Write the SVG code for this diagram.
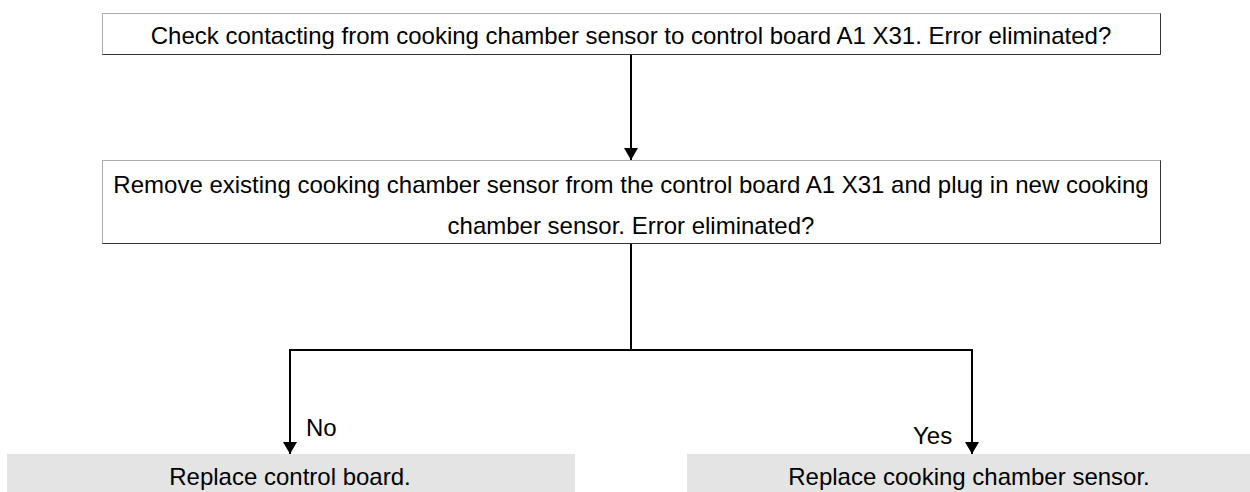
<svg xmlns="http://www.w3.org/2000/svg" width="1250" height="492" viewBox="0 0 1250 492">
<style>
text{font-family:"Liberation Sans",Arial,sans-serif;font-size:24px;fill:#000}
.c{text-anchor:middle}
.box{fill:#fff;stroke:#aaa;stroke-width:1}
.sh{stroke:#333;stroke-width:1;fill:none}
.grey{fill:#e4e4e4}
.ln{stroke:#000;stroke-width:2;fill:none}
</style>
<defs>
<marker id="ah" markerWidth="12" markerHeight="14" viewBox="0 0 12 14" refX="12" refY="7" orient="auto" markerUnits="userSpaceOnUse">
<path d="M0,0 L12,7 L0,14 Z" fill="#000"/>
</marker>
</defs>
<g id="n1">
<rect class="box" x="102.5" y="13.5" width="1058" height="41"/>
<path class="sh" d="M102.5,54.5 H1160.5 V13.5"/>
<text class="c" x="631" y="44">Check contacting from cooking chamber sensor to control board A1 X31. Error eliminated?</text>
</g>
<g id="n2">
<rect class="box" x="102.5" y="160.5" width="1058" height="83"/>
<path class="sh" d="M102.5,243.5 H1160.5 V160.5"/>
<text class="c" x="631" y="193">Remove existing cooking chamber sensor from the control board A1 X31 and plug in new cooking</text>
<text class="c" x="631" y="234">chamber sensor. Error eliminated?</text>
</g>
<g id="n3">
<rect class="grey" x="7" y="454" width="568" height="38"/>
<text class="c" x="290" y="485">Replace control board.</text>
</g>
<g id="n4">
<rect class="grey" x="687" y="454" width="563" height="38"/>
<text class="c" x="969" y="485">Replace cooking chamber sensor.</text>
</g>
<g id="connectors">
<line x1="631" y1="55" x2="631" y2="160" class="ln" marker-end="url(#ah)"/>
<line x1="631" y1="244" x2="631" y2="350" class="ln"/>
<path class="ln" d="M290,440 V350 H972 V440"/>
<line x1="290" y1="350" x2="290" y2="454" class="ln" marker-end="url(#ah)"/>
<line x1="972" y1="350" x2="972" y2="454" class="ln" marker-end="url(#ah)"/>
<text x="306" y="436">No</text>
<text x="913" y="444">Yes</text>
</g>
</svg>
